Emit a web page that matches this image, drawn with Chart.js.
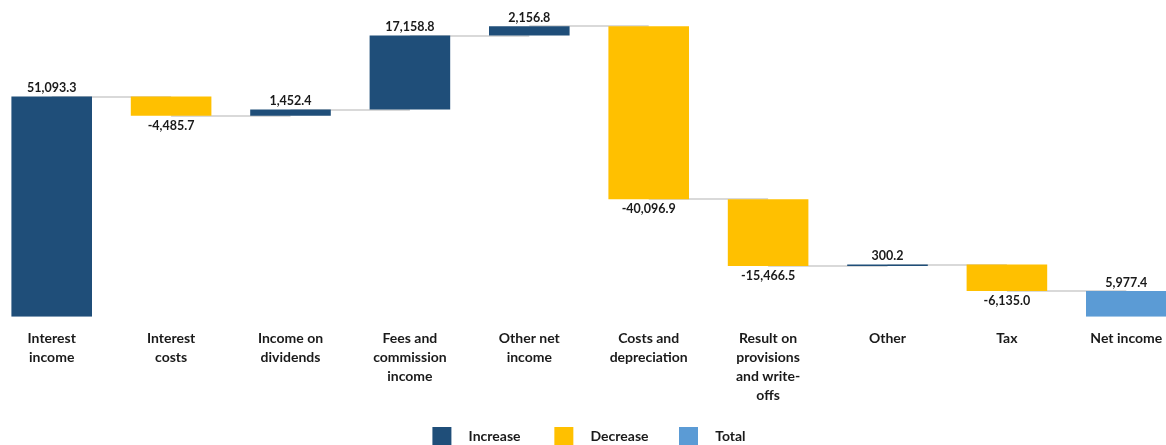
<!DOCTYPE html>
<html>
<head>
<meta charset="utf-8">
<script src="https://cdn.jsdelivr.net/npm/chart.js@4"></script>
<style>
html,body{margin:0;padding:0;background:#fff;overflow:hidden;}
#wrap{position:absolute;left:-8px;top:0;width:1194px;height:456px;}
</style>
</head>
<body>
<div id="wrap"><canvas id="c"></canvas></div>
<script>
const categories = [
  ['Interest','income'],
  ['Interest','costs'],
  ['Income on','dividends'],
  ['Fees and','commission','income'],
  ['Other net','income'],
  ['Costs and','depreciation'],
  ['Result on','provisions','and write-','offs'],
  'Other',
  'Tax',
  'Net income'
];
const changes = [51093.3, -4485.7, 1452.4, 17158.8, 2156.8, -40096.9, -15466.5, 300.2, -6135.0, 5977.4];
const kinds = ['inc','dec','inc','inc','inc','dec','dec','inc','dec','total'];
const seriesNames = ['Increase','Decrease','Total'];
const seriesColors = ['#1F4E79','#FFC000','#5B9BD5'];

// running totals -> floating bar ranges
const ranges = [];
let run = 0;
changes.forEach((v,i)=>{
  if(kinds[i]==='total'){ ranges.push([0, v]); run = v; }
  else { ranges.push([run, run+v]); run += v; }
});
const kindKey = {inc:0, dec:1, total:2};
const datasets = seriesNames.map((name,k)=>({
  label: name,
  data: ranges.map((r,i)=> kindKey[kinds[i]]===k ? r : null),
  backgroundColor: seriesColors[k],
  borderColor: seriesColors[k],
  borderWidth: 0,
  grouped: false,
  categoryPercentage: 1,
  barPercentage: 0.675
}));

const fmt = v => v.toLocaleString('en-US',{minimumFractionDigits:1,maximumFractionDigits:1});

const connectors = {
  id:'connectors',
  beforeDatasetsDraw(chart){
    const {ctx, scales:{x,y}} = chart;
    ctx.save();
    ctx.strokeStyle = '#d9d9d9';
    ctx.lineWidth = 2;
    for(let i=0;i<ranges.length-1;i++){
      const lvl = ranges[i][1];
      const py = Math.round(y.getPixelForValue(lvl));
      ctx.beginPath();
      ctx.moveTo(x.getPixelForValue(i), py);
      ctx.lineTo(x.getPixelForValue(i+1), py);
      ctx.stroke();
    }
    ctx.restore();
  }
};
const valueLabels = {
  id:'valueLabels',
  afterDatasetsDraw(chart){
    const {ctx, scales:{x,y}} = chart;
    ctx.save();
    ctx.font = 'bold 12.5px Lato';
    ctx.fillStyle = '#1a1a1a';
    ctx.textAlign = 'center';
    ranges.forEach((r,i)=>{
      const px = x.getPixelForValue(i);
      const top = y.getPixelForValue(Math.max(r[0],r[1]));
      const bot = y.getPixelForValue(Math.min(r[0],r[1]));
      if(kinds[i]==='dec'){
        ctx.textBaseline = 'top';
        ctx.fillText(fmt(changes[i]), px, bot + 4);
      } else {
        ctx.textBaseline = 'bottom';
        ctx.fillText(fmt(changes[i]), px, top - 2);
      }
    });
    ctx.restore();
  }
};

new Chart(document.getElementById('c'), {
  type:'bar',
  data:{ labels: categories, datasets },
  options:{
    responsive:true,
    maintainAspectRatio:false,
    animation:false,
    layout:{ padding:{ top:15, left:0, right:0, bottom:0 } },
    plugins:{
      legend:{
        position:'bottom',
        labels:{
          boxWidth:19, boxHeight:19,
          padding:10,
          color:'#1a1a1a',
          font:{ family:'Lato', size:14, weight:'bold' },
          generateLabels(chart){
            const items = Chart.defaults.plugins.legend.labels.generateLabels(chart);
            items.forEach((it,i)=>{
              it.text = '   ' + it.text + (i===0 ? '       ' : i===1 ? '      ' : '');
            });
            return items;
          }
        }
      },
      tooltip:{ enabled:false }
    },
    scales:{
      x:{
        grid:{ display:false, drawTicks:false },
        border:{ display:false },
        ticks:{
          color:'#1a1a1a',
          padding:12,
          maxRotation:0,
          autoSkip:false,
          font:{ family:'Lato', size:14, weight:'bold', lineHeight:1.36 }
        }
      },
      y:{
        display:false,
        min:0,
        max:70000
      }
    }
  },
  plugins:[connectors, valueLabels]
});
</script>
</body>
</html>
